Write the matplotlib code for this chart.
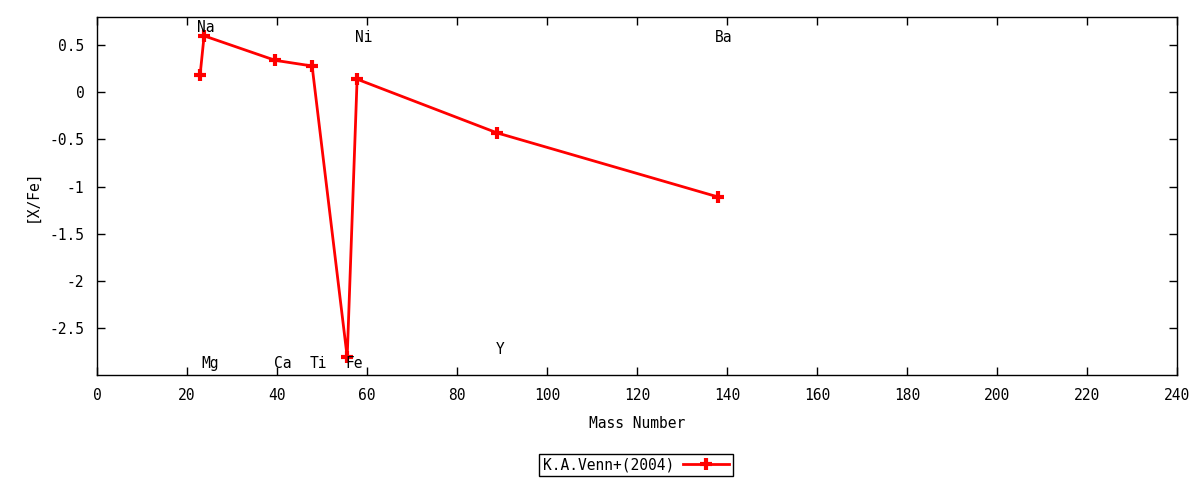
import matplotlib
matplotlib.use("Agg")
import matplotlib.pyplot as plt

# datos
masa = [22.9, 23.8, 39.6, 47.8, 55.6, 57.8, 88.9, 138.0]
x_fe = [0.18, 0.60, 0.34, 0.28, -2.81, 0.14, -0.43, -1.11]

elementos = ['Na', 'Mg', 'Ca', 'Ti', 'Fe', 'Ni', 'Y', 'Ba']
etiqueta_x = [22.2, 23.3, 39.3, 47.3, 55.3, 57.3, 88.7, 137.3]
etiqueta_y = [0.69, -2.88, -2.88, -2.88, -2.88, 0.585, -2.73, 0.585]

xticks = list(range(0, 241, 20))
yticks = [0.5, 0, -0.5, -1, -1.5, -2, -2.5]
ytick_labels = ['0.5', '0', '-0.5', '-1', '-1.5', '-2', '-2.5']

plt.rcParams['font.family'] = ['DejaVu Sans Mono']
plt.rcParams['font.size'] = 10

fig = plt.figure(figsize=(12, 4.8), dpi=100)
ax = fig.add_axes([97/1200, 1 - 375/480, 1080/1200, 358/480])

ax.plot(masa, x_fe, color='red', lw=2, marker='+', ms=9, mew=3,
        label='K.A.Venn+(2004)')

for el, xe, ye in zip(elementos, etiqueta_x, etiqueta_y):
    ax.text(xe, ye, el, ha='left', va='center', fontsize=10.5)

ax.set_xlim(0, 240)
ax.set_ylim(-3.0, 0.8)
ax.set_xticks(xticks)
ax.set_yticks(yticks)
ax.set_yticklabels(ytick_labels, fontsize=10.5)
ax.set_xticklabels([str(t) for t in xticks], fontsize=10.5)
ax.tick_params(direction='in', top=True, right=True, length=6, width=1, pad=9)
for s in ax.spines.values():
    s.set_linewidth(1)

ax.set_xlabel('Mass Number', labelpad=10, fontsize=10.5)
ax.set_ylabel('[X/Fe]', labelpad=7, fontsize=10.5)

leg = ax.legend(loc='center', bbox_to_anchor=(636/1200, 1 - 465/480),
                bbox_transform=fig.transFigure, markerfirst=False,
                fancybox=False, framealpha=1, edgecolor='black',
                handlelength=3.2, borderpad=0.25, borderaxespad=0,
                handletextpad=0.6, fontsize=10.5)
leg.get_frame().set_linewidth(1)

plt.savefig('out.png', dpi=100)
